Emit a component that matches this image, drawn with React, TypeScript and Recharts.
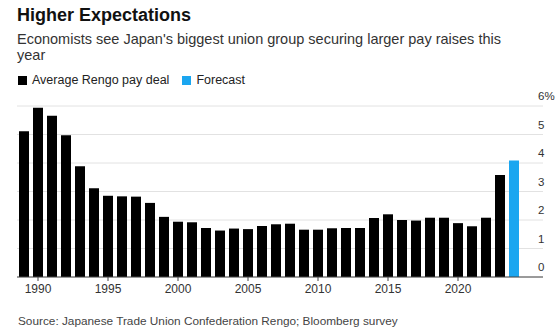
import React from "react";
import { BarChart, Bar, XAxis, YAxis, CartesianGrid, Cell } from "recharts";

// Rengo average pay deal, % (1989-2023 actual, 2024 forecast)
const years = [
  1989, 1990, 1991, 1992, 1993, 1994, 1995, 1996, 1997, 1998, 1999, 2000,
  2001, 2002, 2003, 2004, 2005, 2006, 2007, 2008, 2009, 2010, 2011, 2012,
  2013, 2014, 2015, 2016, 2017, 2018, 2019, 2020, 2021, 2022, 2023, 2024,
];
const payDeal = [
  5.11, 5.94, 5.66, 4.97, 3.89, 3.11, 2.85, 2.83, 2.82, 2.6, 2.11, 1.94,
  1.92, 1.72, 1.63, 1.7, 1.68, 1.79, 1.85, 1.87, 1.66, 1.66, 1.71, 1.72,
  1.72, 2.07, 2.2, 2.0, 1.98, 2.08, 2.08, 1.89, 1.78, 2.08, 3.58, 4.09,
];
const forecastYear = 2024;
const xTicks = [1990, 1995, 2000, 2005, 2010, 2015, 2020];
const yTicks = [0, 1, 2, 3, 4, 5, 6];

const data = years.map((year, i) => ({ year, value: payDeal[i] }));

const FONT = '"Liberation Sans", Arial, Helvetica, sans-serif';
const BLUE = "#1ba6f0";

const YTick = (props: any) => {
  const { x, y, payload } = props;
  return (
    <text x={x - 5} y={y - 6} fontSize={11.5} fill="#333" fontFamily={FONT} textAnchor="start">
      {payload.value === 6 ? "6%" : payload.value}
    </text>
  );
};

export default function App() {
  return (
    <div
      style={{
        position: "absolute",
        left: 0,
        top: 0,
        width: 559,
        height: 333,
        background: "#fff",
        fontFamily: FONT,
        overflow: "hidden",
      }}
    >
      <div style={{ position: "absolute", left: 17, top: 5, fontSize: 18, fontWeight: "bold", color: "#111" }}>
        Higher Expectations
      </div>
      <div style={{ position: "absolute", left: 17, top: 31, width: 500, fontSize: 14.5, lineHeight: "16px", color: "#333" }}>
        Economists see Japan's biggest union group securing larger pay raises this year
      </div>
      <div style={{ position: "absolute", left: 18, top: 73, fontSize: 12.5, color: "#222", display: "flex", alignItems: "center" }}>
        <span style={{ display: "inline-block", width: 9, height: 9, background: "#000", marginRight: 5 }} />
        <span style={{ marginRight: 13 }}>Average Rengo pay deal</span>
        <span style={{ display: "inline-block", width: 9, height: 9, background: BLUE, marginRight: 5 }} />
        <span>Forecast</span>
      </div>

      <div style={{ position: "absolute", left: 0, top: 82 }}>
        <BarChart width={559} height={224} data={data} margin={{ top: 24, right: 0, bottom: 0, left: 17 }} barSize={10}>
          <CartesianGrid vertical={false} stroke="#e2e2e2" />
          <XAxis
            dataKey="year"
            ticks={xTicks}
            interval={0}
            height={29}
            padding={{ left: 0, right: 22 }}
            axisLine={{ stroke: "#444" }}
            tickLine={{ stroke: "#444" }}
            tickSize={4}
            tickMargin={3}
            tick={{ fontSize: 12, fill: "#333", fontFamily: FONT }}
          />
          <YAxis
            orientation="right"
            width={16}
            domain={[0, 6]}
            ticks={yTicks}
            axisLine={false}
            tickLine={false}
            tickSize={0}
            tickMargin={0}
            tick={<YTick />}
          />
          <Bar dataKey="value" isAnimationActive={false}>
            {data.map((d) => (
              <Cell key={d.year} fill={d.year === forecastYear ? BLUE : "#000"} />
            ))}
          </Bar>
        </BarChart>
      </div>

      <div style={{ position: "absolute", left: 18, top: 314, fontSize: 11.8, color: "#444" }}>
        Source: Japanese Trade Union Confederation Rengo; Bloomberg survey
      </div>
    </div>
  );
}
